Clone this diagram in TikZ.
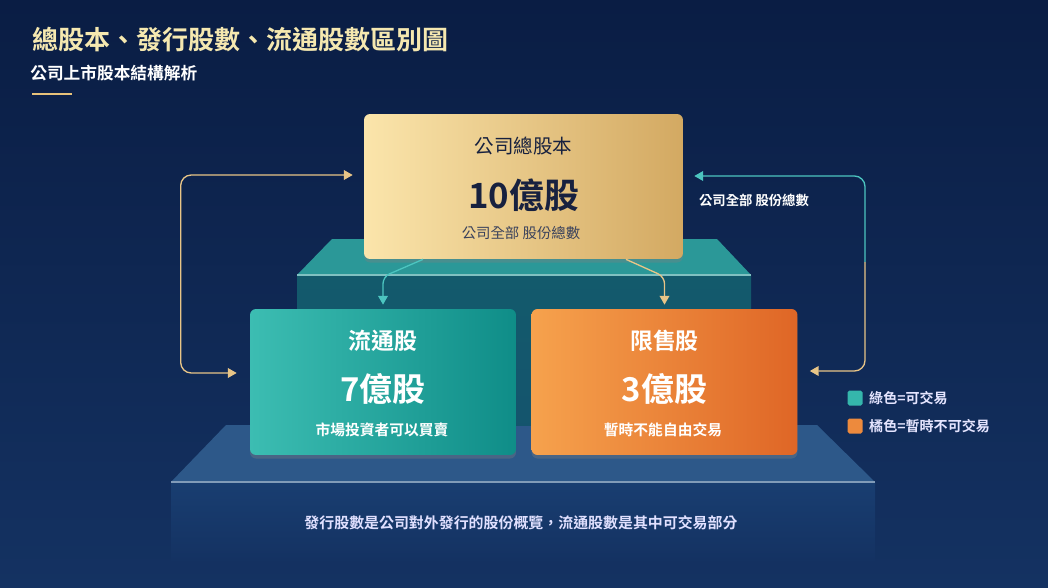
\documentclass[tikz,border=0pt]{standalone}
\usepackage{fontspec}
\setmainfont{Noto Sans CJK TC}[BoldFont={Noto Sans CJK TC Bold}]
\usetikzlibrary{positioning,arrows.meta,shadows}

\definecolor{bgtop}{HTML}{0A1D44}
\definecolor{bgbot}{HTML}{143262}
\definecolor{titlegold}{HTML}{F5E8B0}
\definecolor{linegold}{HTML}{E8C27A}
\definecolor{goldL}{HTML}{FBE5AB}
\definecolor{goldR}{HTML}{D3A962}
\definecolor{navytext}{HTML}{17213F}
\definecolor{tealL}{HTML}{3CBDB2}
\definecolor{tealR}{HTML}{0F8D88}
\definecolor{orangeL}{HTML}{F6A24D}
\definecolor{orangeR}{HTML}{DF6626}
\definecolor{tealtop}{HTML}{2B9898}
\definecolor{tealfront}{HTML}{135A6C}
\definecolor{bluetop}{HTML}{2D5889}
\definecolor{bluefront}{HTML}{193E71}
\definecolor{arrowteal}{HTML}{4CC5C0}
\definecolor{arrowgold}{HTML}{E8C587}

\tikzset{
  card/.style={rounded corners=3.4pt, inner sep=0pt,
    drop shadow={shadow xshift=0pt, shadow yshift=-2pt, opacity=0.35}},
  bigcard/.style={card, minimum width=6.38cm, minimum height=2.9cm,
    left color=goldL, right color=goldR},
  smallcard/.style={card, minimum width=5.32cm, minimum height=2.92cm},
  txt/.style={inner sep=0pt},
  cardhead/.style={txt, text=navytext, font=\fontsize{11.1}{13}\selectfont},
  cardnum/.style={txt, text=navytext, font=\bfseries\fontsize{19.8}{22}\selectfont},
  cardnote/.style={txt, text=navytext!85, font=\fontsize{8.2}{10}\selectfont},
  subhead/.style={txt, text=white, font=\bfseries\fontsize{13}{15}\selectfont},
  subnum/.style={txt, text=white, font=\bfseries\fontsize{18.7}{21}\selectfont},
  subnote/.style={txt, text=white, font=\bfseries\fontsize{8.4}{10}\selectfont},
  link/.style={line width=0.75pt, rounded corners=4pt},
  tipped/.style={-{Triangle[width=5.5pt,length=5pt]}},
  keybox/.style={minimum size=0.3cm, inner sep=0pt, rounded corners=1pt},
  keytext/.style={txt, text=white!90!blue, font=\bfseries\fontsize{8}{10}\selectfont},
}

\begin{document}
\begin{tikzpicture}[x=0.02cm, y=-0.02cm]
\useasboundingbox (0,0) rectangle (1048,588);
\shade[top color=bgtop, bottom color=bgbot] (0,0) rectangle (1048,588);

% heading
\node[txt, anchor=west, text=titlegold, font=\bfseries\fontsize{14.8}{17}\selectfont] (title) at (32,40) {總股本、發行股數、流通股數區別圖};
\node[txt, anchor=west, text=white, font=\bfseries\fontsize{9.5}{11}\selectfont] (subtitle) at (30,73) {公司上市股本結構解析};
\draw[linegold, line width=1.7pt] (32,94) -- (72,94);

% platforms
\shade[top color=bluefront, bottom color=bgbot] (171,482) rectangle (875,560);
\fill[bluetop] (226,425) -- (817,425) -- (875,482) -- (171,482) -- cycle;
\draw[bluetop!60!white, line width=0.6pt] (171,482) -- (875,482);
\shade[top color=tealfront, bottom color=tealfront!80!bluefront] (297,275) rectangle (751,425);
\fill[tealtop] (332,239) -- (717,239) -- (751,275) -- (297,275) -- cycle;
\draw[tealtop!60!white, line width=0.6pt] (297,275) -- (751,275);

% cards
\node[bigcard] (total) at (523.5,186.5) {};
	\node[cardhead] (totalhead) at (523.5,146) {公司總股本};
	\node[cardnum] (totalnum) at (523.5,195) {10億股};
	\node[cardnote] (totalnote) at (521,233) {公司全部 股份總數};

\node[smallcard, left color=tealL, right color=tealR] (float) at (383,382) {};
	\node[subhead] (floathead) at (383,341) {流通股};
	\node[subnum] (floatnum) at (383,389) {7億股};
	\node[subnote] (floatnote) at (382,430) {市場投資者可以買賣};

\node[smallcard, left color=orangeL, right color=orangeR] (locked) at (664.5,382) {};
	\node[subhead] (lockedhead) at (664.5,341) {限售股};
	\node[subnum] (lockednum) at (664.5,389) {3億股};
	\node[subnote] (lockednote) at (663,430) {暫時不能自由交易};

% connectors
\draw[link, tipped, arrowteal] ([xshift=-2.01cm]total.south) -- ([yshift=0.64cm]float.north) -- ([yshift=0.08cm]float.north);
\draw[link, tipped, arrowgold] ([xshift=2.05cm]total.south) -- ([yshift=0.64cm]locked.north) -- ([yshift=0.08cm]locked.north);

\draw[link, rounded corners=6pt, arrowgold, {Triangle[width=5.5pt,length=5pt]}-{Triangle[width=5.5pt,length=5pt]}]
  ([xshift=-0.22cm,yshift=0.23cm]total.west) -| ([xshift=-1.38cm,yshift=0.18cm]float.west) -- ([xshift=-0.26cm,yshift=0.18cm]float.west);

\coordinate (rightmid) at (865,262);
\draw[link, rounded corners=6pt, arrowteal, {Triangle[width=5.5pt,length=5pt]}-]
  ([xshift=0.22cm,yshift=0.21cm]total.east) -| (rightmid);
\draw[link, rounded corners=6pt, arrowgold, tipped]
  (rightmid) |- ([xshift=0.24cm,yshift=0.22cm]locked.east);
\node[txt, text=white, font=\bfseries\fontsize{7.6}{9}\selectfont] (sidenote) at (754,200) {公司全部 股份總數};

% key
\node[keybox, fill=tealL!85!tealR] (keyopen) at (855,398) {};
\node[keytext, right=0.12cm of keyopen] (keyopentext) {綠色=可交易};
\node[keybox, fill=orangeL!60!orangeR] (keylocked) at (855,426) {};
\node[keytext, right=0.12cm of keylocked] (keylockedtext) {橘色=暫時不可交易};

% footer
\node[txt, text=white!88!blue, font=\bfseries\fontsize{8.5}{10}\selectfont] (footer) at (521,523) {發行股數是公司對外發行的股份概覽，流通股數是其中可交易部分};
\end{tikzpicture}
\end{document}
